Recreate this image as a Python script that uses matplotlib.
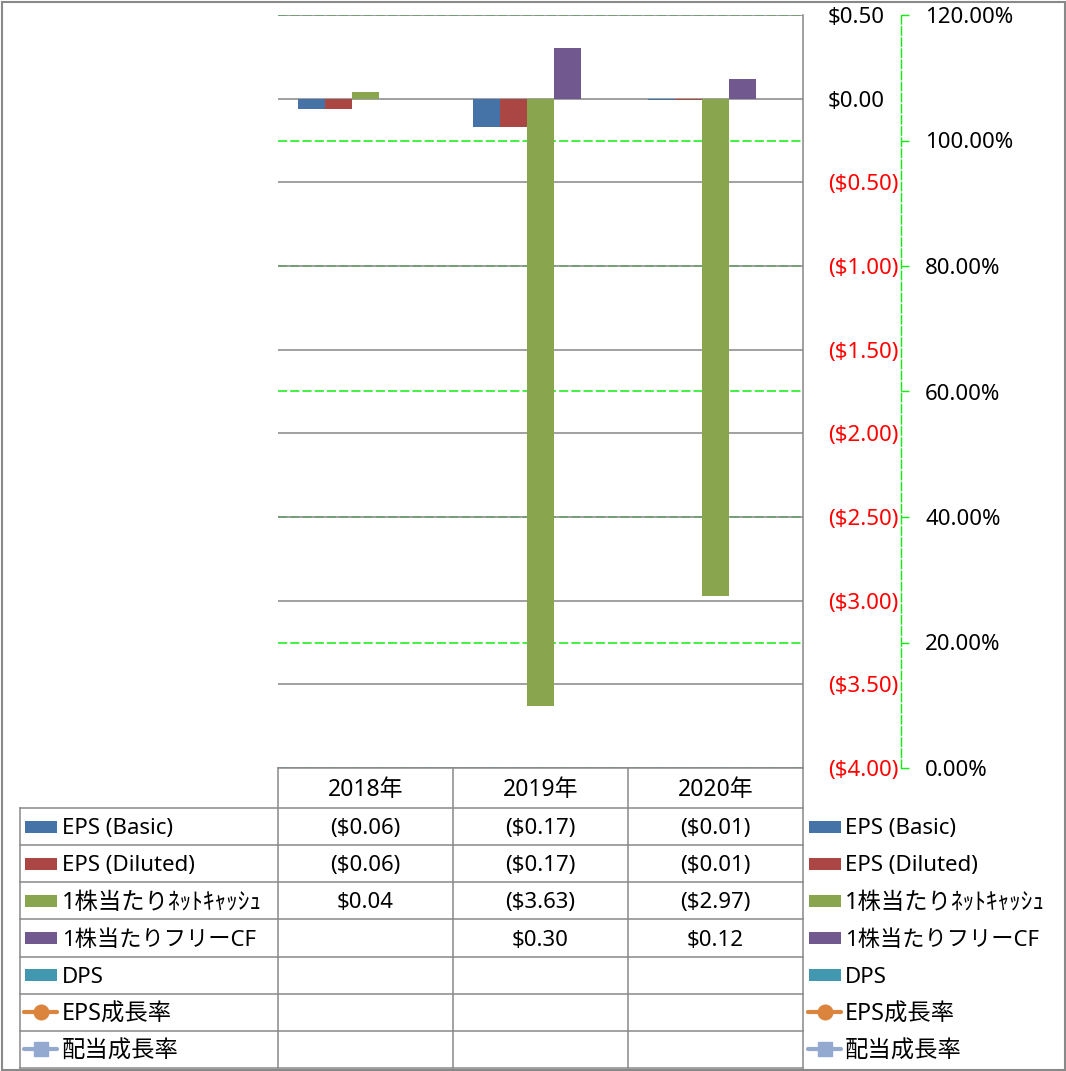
import matplotlib.pyplot as plt
import numpy as np
from matplotlib.patches import Rectangle

plt.rcParams['font.family'] = ['Noto Sans', 'Noto Sans CJK JP']

W, H = 1066, 1071

years = ['2018年', '2019年', '2020年']
series_names = ['EPS (Basic)', 'EPS (Diluted)', '1株当たりﾈｯﾄｷｬｯｼｭ', '1株当たりフリーCF',
                'DPS', 'EPS成長率', '配当成長率']
eps_basic = [-0.06, -0.17, -0.01]
eps_diluted = [-0.06, -0.17, -0.01]
net_cash_ps = [0.04, -3.63, -2.97]
fcf_ps = [None, 0.30, 0.12]
dps = [None, None, None]
eps_growth = [None, None, None]
div_growth = [None, None, None]

bar_series = [eps_basic, eps_diluted, net_cash_ps, fcf_ps, dps]
all_series = bar_series + [eps_growth, div_growth]
colors = ['#4572A7', '#AA4643', '#89A54E', '#71588F', '#4198AF', '#DB843D', '#93A9CF']
kinds = ['bar', 'bar', 'bar', 'bar', 'bar', 'line_o', 'line_s']
# legend text sizes (the original font renders some labels wider)
name_sizes = [16, 16, 16.8, 16, 16, 16.8, 16.8]

grid_gray = '#868686'
green = '#11ee11'


def money(v):
    if v is None:
        return ''
    if v < -1e-9:
        return '(${:.2f})'.format(-v)
    return '${:.2f}'.format(v)


fig = plt.figure(figsize=(W / 100, H / 100), dpi=100)

# plot area in pixel coords
L, R, T, B = 278, 803, 15, 768
ax = fig.add_axes([L / W, 1 - B / H, (R - L) / W, (B - T) / H])
ax2 = ax.twinx()
ax.set_zorder(ax2.get_zorder() + 1)
ax.patch.set_visible(False)

n = len(bar_series)
bw = 27 / 175
x = np.arange(len(years)) + 0.5
for i, (vals, c) in enumerate(zip(bar_series, colors)):
    xs = [xx + (i - (n - 1) / 2) * bw for xx, v in zip(x, vals) if v is not None]
    vs = [v for v in vals if v is not None]
    if vs:
        ax.bar(xs, vs, bw, color=c, zorder=3)

ax.set_xlim(0, len(years))
ax.set_ylim(-4, 0.5)
yt = np.arange(-4, 0.51, 0.5)
ax.set_yticks(yt)
ax.set_yticklabels([money(v) for v in yt])
ax.yaxis.tick_right()
ax.tick_params(axis='y', length=0, pad=18, labelsize=16)
for tick, v in zip(ax.yaxis.get_major_ticks(), yt):
    tick.label2.set_color('red' if v < -1e-9 else 'black')
ax.set_xticks([])
ax.yaxis.grid(True, color=grid_gray, lw=1.1)
ax.set_axisbelow(True)
for s in ['left', 'top', 'bottom']:
    ax.spines[s].set_visible(False)
ax.spines['right'].set_color(grid_gray)
ax.spines['right'].set_linewidth(1.1)

ax2.set_ylim(0, 1.2)
pt = np.arange(0, 1.21, 0.2)
ax2.set_yticks(pt)
ax2.set_yticklabels(['{:.2f}%'.format(v * 100) for v in pt])
ax2.tick_params(axis='y', length=5.8, width=1, color=green, direction='out', pad=11.5, labelsize=16)
ax2.yaxis.grid(True, color=green, lw=1.1, linestyle=(0, (6, 2)))
for s in ['left', 'top', 'bottom']:
    ax2.spines[s].set_visible(False)
ax2.spines['right'].set_position(('outward', 98 * 0.72))
ax2.spines['right'].set_color(green)
ax2.spines['right'].set_linewidth(1)
ax2.spines['right'].set_linestyle((0, (6, 2)))

# overlay for table, legend and frame (pixel coords)
ov = fig.add_axes([0, 0, 1, 1])
ov.set_xlim(0, W)
ov.set_ylim(H, 0)
ov.axis('off')
ov.set_zorder(ax.get_zorder() + 1)

lc = '#898989'
lw = 1.1
head_top, head_bot = 768, 808
row_h = (1068 - head_bot) / len(all_series)
col_x = [L, L + 175, L + 350, R]

ov.plot([L, R], [head_top, head_top], color=lc, lw=lw)
for cx in col_x:
    ov.plot([cx, cx], [head_top, 1068], color=lc, lw=lw)
ov.plot([20, 20], [head_bot, 1068], color=lc, lw=lw)
for k in range(len(all_series) + 1):
    yy = head_bot + k * row_h
    ov.plot([20, R], [yy, yy], color=lc, lw=lw)

for j, yr in enumerate(years):
    ov.text((col_x[j] + col_x[j + 1]) / 2, 790, yr, ha='center', va='center', fontsize=16.5)

for k, (name, vals, c, kind) in enumerate(zip(series_names, all_series, colors, kinds)):
    yc = head_bot + (k + 0.5) * row_h
    for j, v in enumerate(vals):
        ov.text((col_x[j] + col_x[j + 1]) / 2, yc + 2, money(v), ha='center', va='center', fontsize=16)
    for kx, tx in [(25, 62), (809, 845)]:
        if kind == 'bar':
            ov.add_patch(Rectangle((kx, yc - 6), 32, 12, color=c, lw=0))
        else:
            mk = 'o' if kind == 'line_o' else 's'
            ov.plot([kx - 1, kx + 32], [yc, yc], color=c, lw=3, solid_capstyle='round')
            ov.plot([kx + 15.5], [yc], marker=mk, markersize=10.5, color=c)
        ov.text(tx, yc + 2, name, ha='left', va='center', fontsize=name_sizes[k])

ov.add_patch(Rectangle((1.5, 1.5), W - 3, H - 3, fill=False, edgecolor=lc, lw=1.5))

fig.savefig('out.png', dpi=100)
